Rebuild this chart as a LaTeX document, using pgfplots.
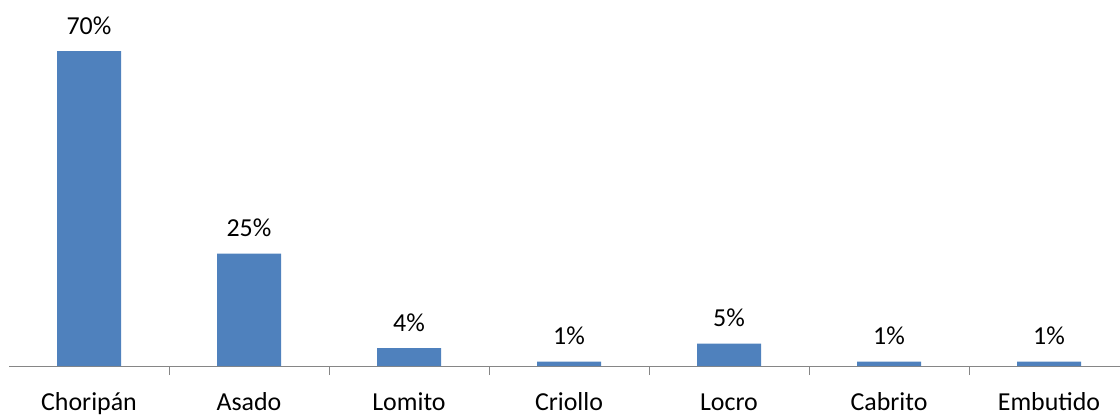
\documentclass[border=0pt]{standalone}
\usepackage{pgfplots}
\pgfplotsset{compat=1.18}
\usepackage{fontspec}
\setmainfont{Carlito}
\usetikzlibrary{calc}
\definecolor{barblue}{HTML}{4F81BD}
\definecolor{axisgray}{HTML}{868686}

\begin{document}
\begin{tikzpicture}
\begin{axis}[
    scale only axis,
    width=1111bp,
    height=360bp,
    xmin=-0.5, xmax=6.444,
    ymin=0, ymax=80,
    axis y line=none,
    axis x line*=bottom,
    x axis line style={axisgray, line width=1bp, -},
    xtick={0,...,6},
    xticklabels={Choripán,Asado,Lomito,Criollo,Locro,Cabrito,Embutido},
    major tick length=0pt,
    extra x ticks={0.5,1.5,...,5.5},
    extra x tick labels={},
    extra x tick style={tick align=outside, major tick length=9bp,
        tick style={axisgray, line width=1bp}},
    xticklabel style={font=\fontsize{26}{31}\selectfont, anchor=base, inner sep=0pt, yshift=-44bp},
    /pgf/number format/assume math mode=true,
    ybar,
    bar width=64bp,
    bar shift=0pt,
    nodes near coords={\pgfmathprintnumber{\pgfplotspointmeta}\%},
    every node near coord/.append style={font=\fontsize{26}{31}\selectfont, anchor=base, inner sep=0pt, yshift=17bp},
    clip=false,
]
\addplot[fill=barblue, draw=none] coordinates {
    (0,70) (1,25) (2,4) (3,1) (4,5) (5,1) (6,1)
};
\coordinate (ll) at (rel axis cs:0,0);
\end{axis}
\pgfresetboundingbox
\useasboundingbox ($(ll)+(-9bp,-49bp)$) rectangle ($(ll)+(1111bp,366bp)$);
\end{tikzpicture}
\end{document}
